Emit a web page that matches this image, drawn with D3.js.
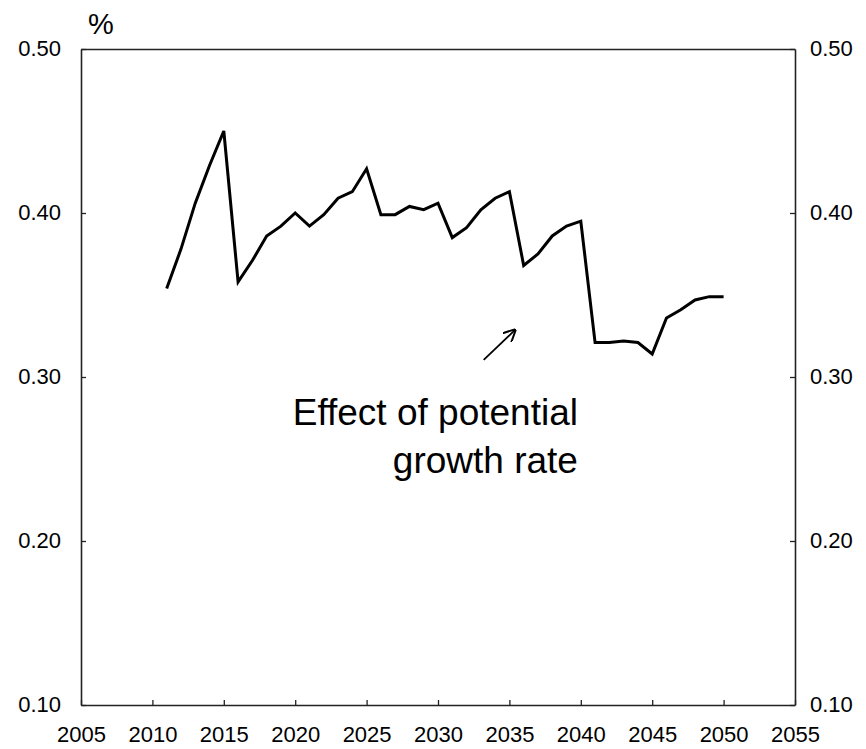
<!DOCTYPE html>
<html>
<head>
<meta charset="utf-8">
<script src="https://cdn.jsdelivr.net/npm/d3@7"></script>
<style>
  html, body { margin: 0; padding: 0; background: #fff; }
  svg { display: block; font-family: "Liberation Sans", Arial, sans-serif; }
</style>
</head>
<body>
<svg id="chart" width="866" height="749"></svg>
<script>
// Annual series, fiscal years 2011-2050 (%)
const years = [2011, 2012, 2013, 2014, 2015, 2016, 2017, 2018, 2019, 2020,
               2021, 2022, 2023, 2024, 2025, 2026, 2027, 2028, 2029, 2030,
               2031, 2032, 2033, 2034, 2035, 2036, 2037, 2038, 2039, 2040,
               2041, 2042, 2043, 2044, 2045, 2046, 2047, 2048, 2049, 2050];
const values = [0.354, 0.378, 0.406, 0.429, 0.450, 0.358, 0.371, 0.386, 0.392, 0.400,
                0.392, 0.399, 0.409, 0.413, 0.427, 0.399, 0.399, 0.404, 0.402, 0.406,
                0.385, 0.391, 0.402, 0.409, 0.413, 0.368, 0.375, 0.386, 0.392, 0.395,
                0.321, 0.321, 0.322, 0.321, 0.314, 0.336, 0.341, 0.347, 0.349, 0.349];
const xTicks = [2005, 2010, 2015, 2020, 2025, 2030, 2035, 2040, 2045, 2050, 2055];
const yTicks = [0.10, 0.20, 0.30, 0.40, 0.50];
const unitLabel = "%";
const noteLines = ["Effect of potential", "growth rate"];

const svg = d3.select("#chart");
const plotLeft = 81, plotRight = 795, plotTop = 49, plotBottom = 705;

const x = d3.scaleLinear().domain([2005, 2055]).range([plotLeft, plotRight]);
const y = d3.scaleLinear().domain([0.10, 0.50]).range([plotBottom, plotTop]);

const axisColor = "#222";

// Axes with inward ticks
const gBottom = svg.append("g").attr("transform", `translate(0,${plotBottom})`)
  .call(d3.axisBottom(x).tickValues(xTicks).tickFormat(d3.format("d"))
        .tickSizeInner(-5).tickSizeOuter(0).tickPadding(22));
const gTop = svg.append("g").attr("transform", `translate(0,${plotTop})`)
  .call(d3.axisTop(x).tickValues([]).tickSizeOuter(0));
const gLeft = svg.append("g").attr("transform", `translate(${plotLeft},0)`)
  .call(d3.axisLeft(y).tickValues(yTicks).tickFormat(d3.format(".2f"))
        .tickSizeInner(-5).tickSizeOuter(0).tickPadding(20));
const gRight = svg.append("g").attr("transform", `translate(${plotRight},0)`)
  .call(d3.axisRight(y).tickValues(yTicks).tickFormat(d3.format(".2f"))
        .tickSizeInner(-5).tickSizeOuter(0).tickPadding(15));

[gBottom, gTop, gLeft, gRight].forEach(g => {
  g.select(".domain").attr("stroke", axisColor).attr("stroke-width", 1.6);
  g.selectAll(".tick line").attr("stroke", axisColor).attr("stroke-width", 1.3);
  g.selectAll(".tick text")
    .attr("fill", "#000")
    .style("font-family", "'Liberation Sans', Arial, sans-serif")
    .style("font-size", "22px");
});
gBottom.selectAll(".tick text").attr("dy", "0.68em");
gLeft.selectAll(".tick text").attr("dy", "0.3em");
gRight.selectAll(".tick text").attr("dy", "0.3em");

// Unit label above the left axis
svg.append("text")
  .attr("x", x(2006.4)).attr("y", 34)
  .attr("text-anchor", "middle")
  .style("font-size", "29px")
  .text(unitLabel);

// Series line
const line = d3.line()
  .x((d, i) => x(years[i]))
  .y(d => y(d));
svg.append("path")
  .datum(values)
  .attr("fill", "none")
  .attr("stroke", "#000")
  .attr("stroke-width", 3)
  .attr("stroke-linejoin", "miter")
  .attr("d", line);

// Annotation arrow and note
svg.append("defs").append("marker")
  .attr("id", "head")
  .attr("viewBox", "0 0 10 10")
  .attr("refX", 9).attr("refY", 5)
  .attr("markerWidth", 7).attr("markerHeight", 7)
  .attr("orient", "auto")
  .append("path")
  .attr("d", "M0,0 L10,5 L0,10")
  .attr("fill", "none")
  .attr("stroke", "#000")
  .attr("stroke-width", 1.6);

svg.append("line")
  .attr("x1", x(2033.2)).attr("y1", y(0.3104))
  .attr("x2", x(2035.4)).attr("y2", y(0.3287))
  .attr("stroke", "#000")
  .attr("stroke-width", 1.8)
  .attr("marker-end", "url(#head)");

const note = svg.append("text")
  .attr("text-anchor", "end")
  .style("font-size", "37px")
  .attr("fill", "#000");
noteLines.forEach((t, i) => {
  note.append("tspan")
    .attr("x", x(2039.8))
    .attr("y", y(0.2707) + i * 48)
    .text(t);
});
</script>
</body>
</html>
